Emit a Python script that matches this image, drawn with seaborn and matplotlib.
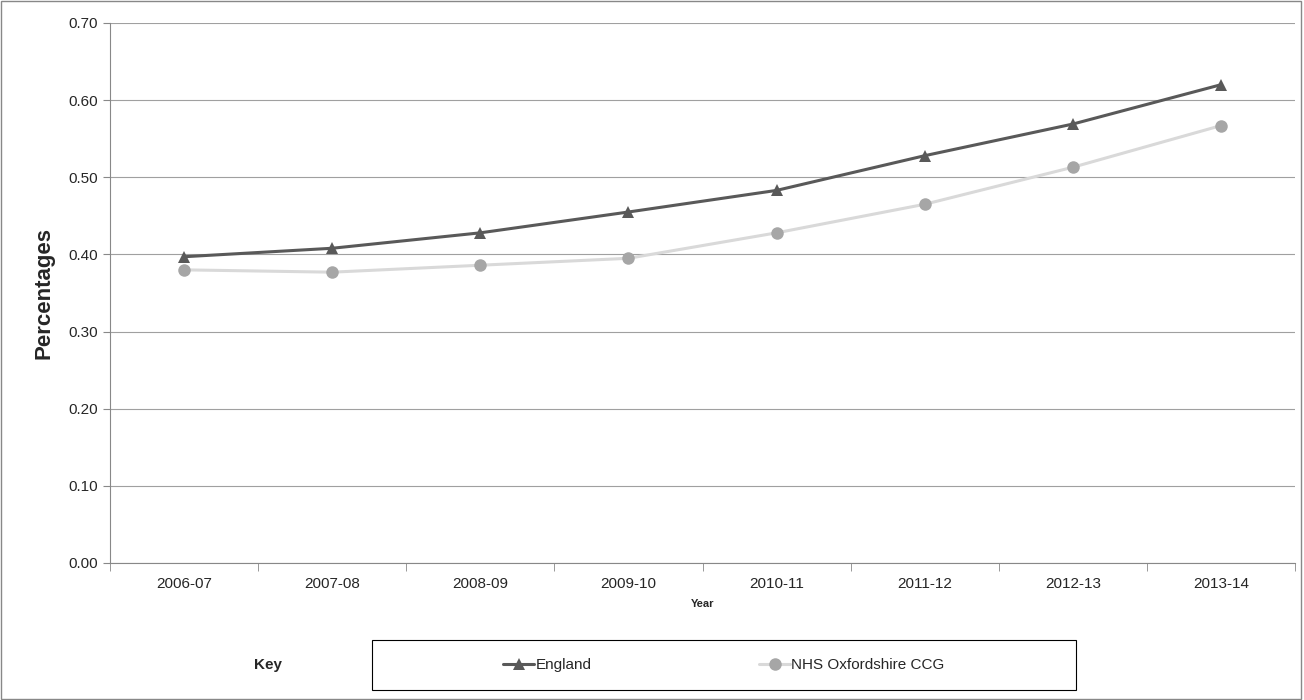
import matplotlib
matplotlib.use("Agg")
import matplotlib.pyplot as plt
import seaborn as sns
import pandas as pd

years = ["2006-07", "2007-08", "2008-09", "2009-10", "2010-11", "2011-12", "2012-13", "2013-14"]
england = [0.397, 0.408, 0.428, 0.455, 0.483, 0.528, 0.569, 0.620]
oxford = [0.380, 0.377, 0.386, 0.395, 0.428, 0.465, 0.513, 0.567]

sns.set_style("white")
plt.rcParams['font.family'] = ['Liberation Sans', 'DejaVu Sans']

df = pd.DataFrame({"Year": years * 2,
                   "Value": england + oxford,
                   "Series": ["England"] * 8 + ["NHS Oxfordshire CCG"] * 8})

fig = plt.figure(figsize=(13.04, 7.0), dpi=100)
ax = fig.add_axes([110/1304, 1 - 563/700, (1295-110)/1304, (563-23)/700])

sns.lineplot(data=df, x="Year", y="Value", hue="Series", style="Series",
             palette={"England": "#595959", "NHS Oxfordshire CCG": "#d9d9d9"},
             markers={"England": "^", "NHS Oxfordshire CCG": "o"}, dashes=False,
             linewidth=2.2, markersize=9, markeredgewidth=0, sort=False, ax=ax)
for line, c in zip(ax.lines[:2], ["#595959", "#a6a6a6"]):
    line.set_markerfacecolor(c)
ax.set_xlim(-0.5, 7.5)
ax.set_ylim(0, 0.7)
ax.set_yticks([i/10 for i in range(8)])
ax.set_yticklabels([f"{i/10:.2f}" for i in range(8)], fontsize=11)
ax.tick_params(axis='x', labelsize=11, length=0, pad=10)
ax.grid(axis='y', color='#a0a0a0', linewidth=0.8)
for s in ["top", "right"]:
    ax.spines[s].set_visible(False)
for s in ["left", "bottom"]:
    ax.spines[s].set_color('#888888')
ax.set_xticks([i + 0.5 for i in range(-1, 8)], minor=True)
ax.tick_params(axis='x', which='minor', bottom=True, length=6, color='#888888')
ax.tick_params(axis='y', left=True, length=5, color='#888888')
ax.set_ylabel("Percentages", fontsize=16, fontweight='bold', labelpad=10)
ax.set_xlabel("Year", fontsize=8, fontweight='bold', labelpad=6)

handles, labels = ax.get_legend_handles_labels()
ax.get_legend().remove()
for h in handles:
    if h.get_label() == "NHS Oxfordshire CCG":
        h.set_markerfacecolor("#a6a6a6")
leg = fig.legend(handles, labels, loc='center', ncol=2, frameon=True,
                 bbox_to_anchor=(372/1304, 1 - 690/700, (1076-372)/1304, 50/700),
                 fontsize=11, fancybox=False, edgecolor='black',
                 handlelength=2, handletextpad=0.1, columnspacing=11, borderpad=0.9)
leg.get_frame().set_linewidth(0.8)
fig.text(268/1304, 1 - 665/700, "Key", fontsize=11, fontweight='bold', ha='center', va='center')
fig.add_artist(plt.Rectangle((372/1304, 10/700), 704/1304, 50/700, transform=fig.transFigure,
                             fill=False, edgecolor='black', linewidth=0.8))
leg.get_frame().set_visible(False)

border = plt.Rectangle((0.001, 0.001), 0.997, 0.997, transform=fig.transFigure,
                       fill=False, edgecolor='#888888', linewidth=1)
fig.patches.append(border)
fig.savefig("out.png", dpi=100)
